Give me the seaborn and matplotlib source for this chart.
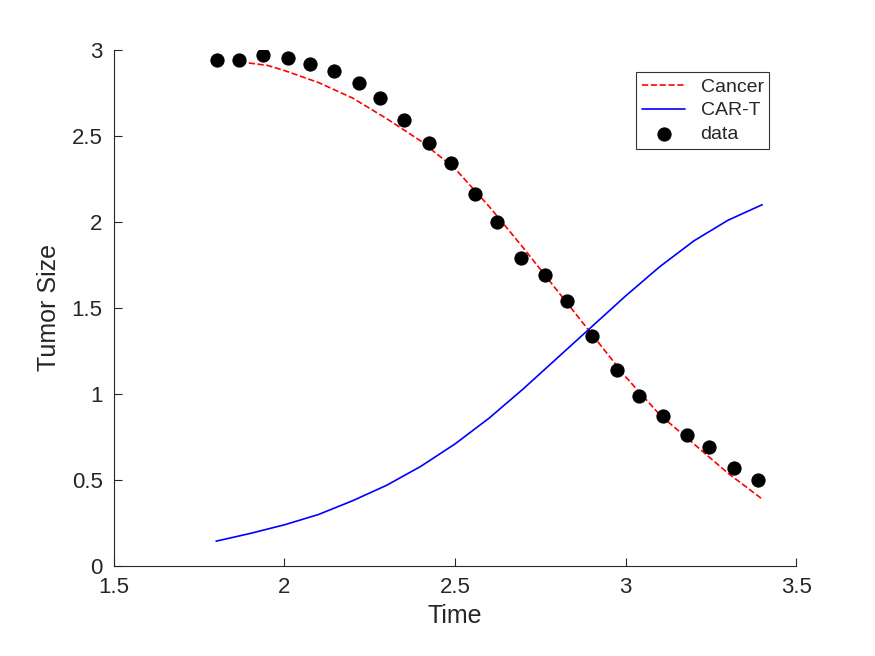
import numpy as np
import pandas as pd
import matplotlib
matplotlib.use("Agg")
import matplotlib.pyplot as plt
import seaborn as sb

# observed data points
data_t = [1.802, 1.867, 1.937, 2.010, 2.075, 2.145, 2.218, 2.280, 2.350, 2.424, 2.488, 2.559,
          2.623, 2.694, 2.764, 2.828, 2.902, 2.975, 3.040, 3.110, 3.180, 3.245, 3.318, 3.389]
data_y = [2.94, 2.94, 2.97, 2.95, 2.92, 2.88, 2.81, 2.72, 2.59, 2.46, 2.34, 2.16,
          2.00, 1.79, 1.69, 1.54, 1.34, 1.14, 0.99, 0.87, 0.76, 0.69, 0.57, 0.50]

# model curves
cancer_t = [1.87, 1.95, 2.0, 2.1, 2.2, 2.3, 2.4, 2.5, 2.6, 2.7, 2.8, 2.9, 3.0, 3.1, 3.2, 3.3, 3.4]
cancer_y = [2.93, 2.91, 2.88, 2.81, 2.72, 2.60, 2.47, 2.31, 2.09, 1.85, 1.60, 1.35, 1.10, 0.88, 0.71, 0.54, 0.39]
cart_t = [1.80, 1.9, 2.0, 2.1, 2.2, 2.3, 2.4, 2.5, 2.6, 2.7, 2.8, 2.9, 3.0, 3.1, 3.2, 3.3, 3.4]
cart_y = [0.145, 0.19, 0.24, 0.30, 0.38, 0.47, 0.58, 0.71, 0.86, 1.03, 1.21, 1.39, 1.57, 1.74, 1.89, 2.01, 2.10]

sb.set_style("white")
plt.rcParams['font.family'] = ['Liberation Sans', 'DejaVu Sans']

fig = plt.figure(figsize=(8.75, 6.56), dpi=100)
ax = fig.add_axes([0.130, 0.137, 0.780, 0.787])

sb.lineplot(x=cancer_t, y=cancer_y, ax=ax, color='red', linestyle='--', linewidth=1.2, label='Cancer')
sb.lineplot(x=cart_t, y=cart_y, ax=ax, color='blue', linewidth=1.2, label='CAR-T')
sb.scatterplot(x=data_t, y=data_y, ax=ax, color='black', s=90, edgecolor='black', label='data', zorder=3)

ax.set_xlim(1.5, 3.5)
ax.set_ylim(0, 3)
ax.set_xticks([1.5, 2, 2.5, 3, 3.5])
ax.set_xticklabels(['1.5', '2', '2.5', '3', '3.5'])
ax.set_yticks([0, 0.5, 1, 1.5, 2, 2.5, 3])
ax.set_yticklabels(['0', '0.5', '1', '1.5', '2', '2.5', '3'])
ax.tick_params(labelsize=16, direction='in', length=6, pad=8, color='#262626',
               labelcolor='#262626', left=True, bottom=True)
ax.set_xlabel('Time', fontsize=18, color='#262626', labelpad=4)
ax.set_ylabel('Tumor Size', fontsize=18, color='#262626', labelpad=8)
for s in ['top', 'right']:
    ax.spines[s].set_visible(False)
for s in ['left', 'bottom']:
    ax.spines[s].set_color('#262626')

leg = ax.legend(loc='upper right', bbox_to_anchor=(0.975, 0.975), fontsize=14, frameon=True,
                fancybox=False, edgecolor='black', handlelength=2.2, borderpad=0.3, labelspacing=0.3)
leg.get_frame().set_linewidth(0.8)

fig.savefig('out.png', dpi=100)
